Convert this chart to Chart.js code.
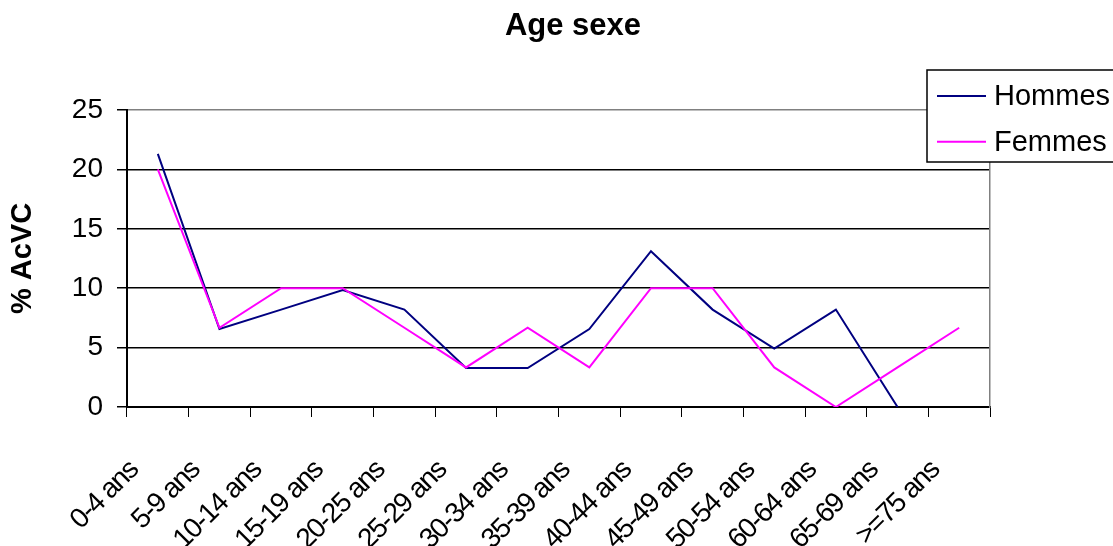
<!DOCTYPE html>
<html>
<head>
<meta charset="utf-8">
<title>Age sexe</title>
<script src="https://cdn.jsdelivr.net/npm/chart.js@4/dist/chart.umd.min.js"></script>
<style>
  body { margin: 0; background: #fff; }
  #wrap { width: 1113px; height: 546px; }
</style>
</head>
<body>
<div id="wrap"><canvas id="ageChart" width="1113" height="546"></canvas></div>
<script>
let chartTitle = "Age sexe";
let yTitle = "% AcVC";
let categories = ["0-4 ans", "5-9 ans", "10-14 ans", "15-19 ans", "20-25 ans", "25-29 ans", "30-34 ans",
                  "35-39 ans", "40-44 ans", "45-49 ans", "50-54 ans", "60-64 ans", "65-69 ans", ">=75 ans"];
let hommes = [21.3, 6.56, 8.2, 9.84, 8.2, 3.28, 3.28, 6.56, 13.11, 8.2, 4.92, 8.2, 0, null];
let femmes = [20, 6.67, 10, 10, 6.67, 3.33, 6.67, 3.33, 10, 10, 3.33, 0, 3.33, 6.67];
let yMin = 0, yMax = 25, yStep = 5;

const font = '"Liberation Sans", Arial, sans-serif';

// title + legend box, drawn the way the spreadsheet did (legend runs off the right edge)
const titleAndLegend = {
    id: "titleAndLegend",
    afterDraw(chart) {
        const ctx = chart.ctx;
        ctx.save();
        ctx.fillStyle = "#000";
        ctx.font = "bold 31px " + font;
        ctx.textAlign = "center";
        ctx.textBaseline = "alphabetic";
        ctx.fillText(chartTitle, 573, 35);

        ctx.fillStyle = "#fff";
        ctx.fillRect(927, 70, 200, 92);
        ctx.strokeStyle = "#000";
        ctx.lineWidth = 1.5;
        ctx.strokeRect(927, 70, 200, 92);

        chart.data.datasets.forEach((ds, i) => {
            let y = 96 + i * 45.7;
            ctx.strokeStyle = ds.borderColor;
            ctx.lineWidth = 2;
            ctx.beginPath();
            ctx.moveTo(937, y);
            ctx.lineTo(986, y);
            ctx.stroke();
            ctx.fillStyle = "#000";
            ctx.font = "29px " + font;
            ctx.textAlign = "left";
            ctx.textBaseline = "middle";
            ctx.fillText(ds.label, 994, y + 1);
        });
        ctx.restore();
    }
};

new Chart("ageChart", {
    type: "line",
    data: {
        labels: categories,
        datasets: [
            {
                label: "Hommes",
                data: hommes,
                borderColor: "#000080",
                borderWidth: 2,
                pointRadius: 0,
                tension: 0,
                order: 1
            },
            {
                label: "Femmes",
                data: femmes,
                borderColor: "#ff00ff",
                borderWidth: 2,
                pointRadius: 0,
                tension: 0,
                order: 0
            }
        ]
    },
    options: {
        responsive: false,
        animation: false,
        events: [],
        layout: { padding: { top: 110, right: 123, left: 0, bottom: 0 } },
        plugins: {
            legend: { display: false },
            title: { display: false },
            tooltip: { enabled: false }
        },
        scales: {
            x: {
                offset: true,
                grid: {
                    offset: true,
                    drawOnChartArea: false,
                    color: "#000",
                    tickLength: 10
                },
                border: { color: "#000", width: 2 },
                ticks: {
                    color: "#000",
                    font: { family: font, size: 28 },
                    maxRotation: 45,
                    minRotation: 45,
                    autoSkip: false,
                    labelOffset: -24,
                    padding: 37
                },
                afterFit(scale) {
                    scale.height = 139;
                    // the rotated labels in the original are set tight
                    if (!scale.tightLabels) {
                        const drawLabels = scale.drawLabels;
                        scale.drawLabels = function (area) {
                            this.ctx.save();
                            this.ctx.letterSpacing = "-1.5px";
                            drawLabels.call(this, area);
                            this.ctx.restore();
                        };
                        scale.tightLabels = true;
                    }
                }
            },
            y: {
                min: yMin,
                max: yMax,
                ticks: {
                    stepSize: yStep,
                    color: "#000",
                    font: { family: font, size: 28 },
                    padding: 14
                },
                grid: {
                    color: (c) => (c.tick && c.tick.value === yMax ? "#808080" : "#000"),
                    tickColor: "#000",
                    tickLength: 10,
                    lineWidth: 1.5
                },
                border: { color: "#000", width: 2 },
                title: {
                    display: true,
                    text: yTitle,
                    color: "#000",
                    font: { family: font, size: 29, weight: "bold" },
                    padding: { top: 6, bottom: 0 }
                },
                afterFit(scale) { scale.width = 127; }
            },
            y2: {
                position: "right",
                min: yMin,
                max: yMax,
                ticks: { display: false },
                grid: { drawOnChartArea: false, drawTicks: false },
                border: { color: "#808080", width: 1.5 },
                afterFit(scale) { scale.width = 0; }
            }
        }
    },
    plugins: [titleAndLegend]
});
</script>
</body>
</html>
